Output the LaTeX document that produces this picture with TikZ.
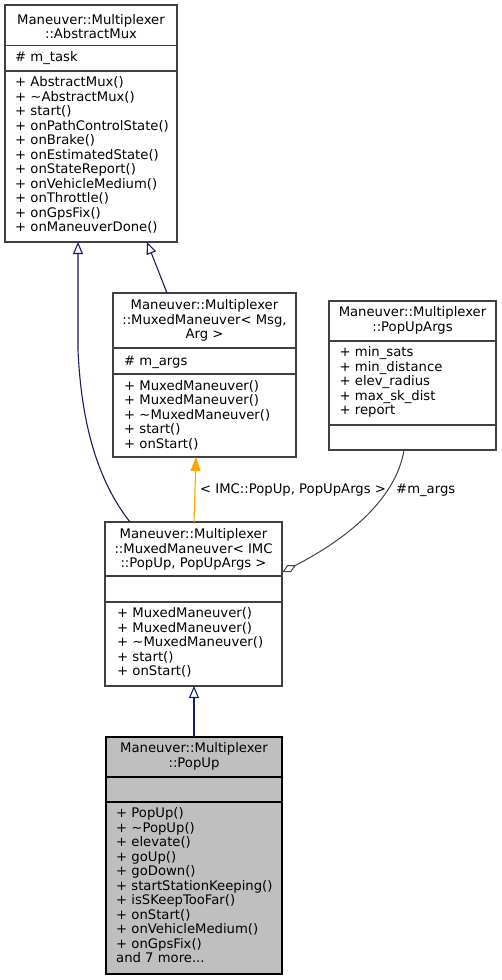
\documentclass[tikz,border=0pt]{standalone}
\usepackage{fontspec}
\setmainfont{DejaVu Sans}
\usetikzlibrary{arrows.meta,calc}
\definecolor{navyedge}{HTML}{191970}
\definecolor{orangeedge}{HTML}{FFA500}
\definecolor{grayedge}{HTML}{404040}
\definecolor{boxline}{HTML}{404040}
\definecolor{hlfill}{HTML}{BFBFBF}
\newcommand{\tdots}{...}
\begin{document}
\begin{tikzpicture}[x=1pt,y=-1pt,font=\fontsize{13.2}{14.5}\selectfont,
  classbox/.style={draw=boxline,line width=1.2pt,inner sep=0,outer sep=0,anchor=north west},
  hlbox/.style={classbox,draw=black,fill=hlfill},
  divider/.style={draw=boxline,line width=1.2pt},
  txt/.style={inner sep=0,anchor=base west},
  ttl/.style={inner sep=0,anchor=base},
  inherit/.style={draw=navyedge,line width=1.1pt,-{Triangle[open,length=12pt,width=10pt]}},
  tmpl/.style={draw=orangeedge,line width=1.1pt,-{Triangle[length=14pt,width=10pt]}},
  aggr/.style={draw=grayedge,line width=1pt,-{Diamond[open,length=15pt,width=8pt]}},
  elabel/.style={inner sep=0,anchor=base west}]
\useasboundingbox (0,0) rectangle (501,980);

% ---- AbstractMux
\node[classbox,minimum width=172pt,minimum height=237pt] (A) at (5,5) {};
\draw[divider] (A.west |- 0,45.5) -- (A.east |- 0,45.5);
\draw[divider] (A.west |- 0,71) -- (A.east |- 0,71);
\node[ttl] (a1) at (91,24.5) {Maneuver::Multiplexer};
\node[ttl] (a2) at (91,38.5) {::AbstractMux};
\node[txt] (aa) at (15,61.5) {\# m\_task};
\foreach \t [count=\i from 0] in {{+ AbstractMux()},{+ \textasciitilde AbstractMux()},{+ start()},{+ onPathControlState()},{+ onBrake()},{+ onEstimatedState()},{+ onStateReport()},{+ onVehicleMedium()},{+ onThrottle()},{+ onGpsFix()},{+ onManeuverDone()}}
  \node[txt] (am\i) at (15,{86.5+14.5*\i}) {\t};

% ---- MuxedManeuver< Msg, Arg >
\node[classbox,minimum width=183pt,minimum height=164pt] (B) at (113,293) {};
\draw[divider] (B.west |- 0,348) -- (B.east |- 0,348);
\draw[divider] (B.west |- 0,374) -- (B.east |- 0,374);
\node[ttl] (b1) at (204.5,309.5) {Maneuver::Multiplexer};
\node[ttl] (b2) at (204.5,324) {::MuxedManeuver< Msg,};
\node[ttl] (b3) at (204.5,338.5) {Arg >};
\node[txt] (ba) at (124,365) {\# m\_args};
\foreach \t [count=\i from 0] in {{+ MuxedManeuver()},{+ MuxedManeuver()},{+ \textasciitilde MuxedManeuver()},{+ start()},{+ onStart()}}
  \node[txt] (bm\i) at (124,{390+14.5*\i}) {\t};

% ---- PopUpArgs
\node[classbox,minimum width=167pt,minimum height=149pt] (C) at (329,301) {};
\draw[divider] (C.west |- 0,341) -- (C.east |- 0,341);
\draw[divider] (C.west |- 0,425) -- (C.east |- 0,425);
\node[ttl] (c1) at (412.5,316.5) {Maneuver::Multiplexer};
\node[ttl] (c2) at (412.5,331.5) {::PopUpArgs};
\foreach \t [count=\i from 0] in {{+ min\_sats},{+ min\_distance},{+ elev\_radius},{+ max\_sk\_dist},{+ report}}
  \node[txt] (ca\i) at (339.5,{356.5+14.5*\i}) {\t};

% ---- MuxedManeuver< IMC::PopUp, PopUpArgs >
\node[classbox,minimum width=177pt,minimum height=164pt] (D) at (105,522) {};
\draw[divider] (D.west |- 0,576) -- (D.east |- 0,576);
\draw[divider] (D.west |- 0,602) -- (D.east |- 0,602);
\node[ttl] (d1) at (193.5,538.5) {Maneuver::Multiplexer};
\node[ttl] (d2) at (193.5,553) {::MuxedManeuver< IMC};
\node[ttl] (d3) at (193.5,567.5) {::PopUp, PopUpArgs >};
\foreach \t [count=\i from 0] in {{+ MuxedManeuver()},{+ MuxedManeuver()},{+ \textasciitilde MuxedManeuver()},{+ start()},{+ onStart()}}
  \node[txt] (dm\i) at (117,{617.5+14.5*\i}) {\t};

% ---- PopUp
\node[hlbox,minimum width=176pt,minimum height=237pt] (E) at (106,737) {};
\draw[divider,draw=black] (E.west |- 0,777) -- (E.east |- 0,777);
\draw[divider,draw=black] (E.west |- 0,802) -- (E.east |- 0,802);
\node[ttl] (e1) at (194,752.5) {Maneuver::Multiplexer};
\node[ttl] (e2) at (194,767.5) {::PopUp};
\foreach \t [count=\i from 0] in {{+ PopUp()},{+ \textasciitilde PopUp()},{+ elevate()},{+ goUp()},{+ goDown()},{+ startStationKeeping()},{+ isSKeepTooFar()},{+ onStart()},{+ onVehicleMedium()},{+ onGpsFix()},{and 7 more\tdots}}
  \node[txt] (em\i) at (116,{817.5+14.5*\i}) {\t};

% ---- connectors
\draw[inherit] ($(D.north west)+(25,0)$) .. controls (105,490) and (82,440) .. (78,350) -- ($(A.south west)+(73,0)$);
\draw[inherit] ($(B.north west)+(54,0)$) -- ($(A.south west)+(142,0)$);
\draw[tmpl] ($(D.north west)+(89,0)$) -- ($(B.south west)+(83,0)$);
\node[elabel] (lt) at (200,493) {< IMC::PopUp, PopUpArgs >};
\draw[aggr] ($(C.south west)+(75,0)$) .. controls (396,500) and (345,540) .. ($(D.north east)+(0.5,50)$);
\node[elabel] (lm) at (396,493) {\#m\_args};
\draw[inherit] ($(E.north west)+(88,0)$) -- ($(D.south west)+(89,0)$);
\end{tikzpicture}
\end{document}
